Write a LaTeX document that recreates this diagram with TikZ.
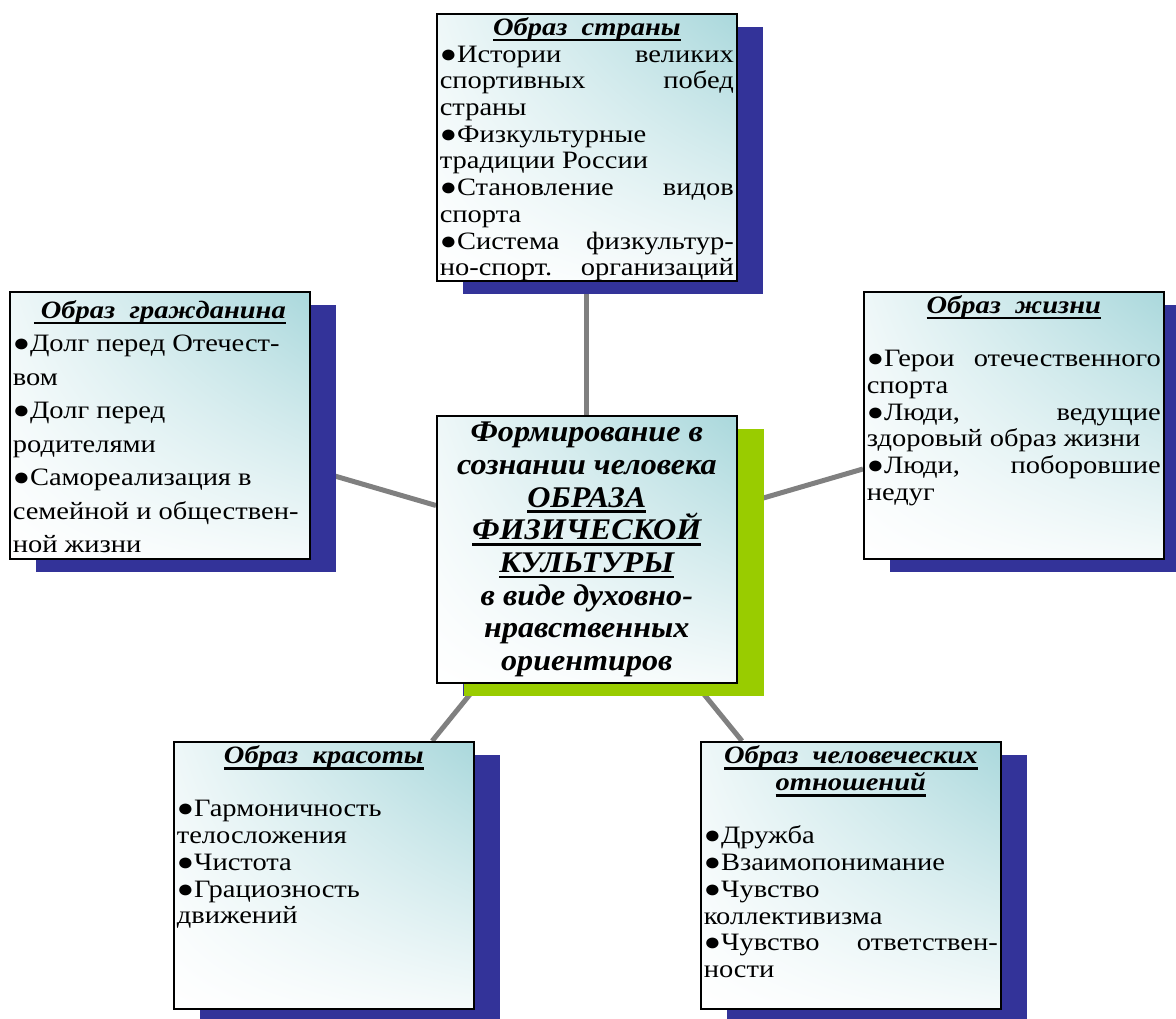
\documentclass[tikz,border=0pt]{standalone}
\usepackage{fontspec}
\setmainfont[FakeStretch=1.14]{Liberation Serif}
\newfontfamily\centrfont[FakeStretch=1.07]{Liberation Serif}
\usepackage{xcolor}
\usepackage{tikz}
\usetikzlibrary{shadows,shadings}
\usetikzlibrary{backgrounds}
\usetikzlibrary{positioning}

\definecolor{sinij}{RGB}{51,51,153}
\definecolor{salat}{RGB}{153,204,0}
\definecolor{seryj}{RGB}{128,128,128}
\definecolor{biruza}{RGB}{170,216,220}

\newcommand{\podch}[1]{\leavevmode\setbox0=\hbox{#1}\rlap{\rule[-6pt]{\wd0}{2.6pt}}\box0}
\newcommand{\vnutri}[1]{\parbox[c][261pt][t]{294pt}{\frenchspacing\hyphenpenalty=10000 #1}}
\newcommand{\zag}[1]{{\centering\bfseries\itshape\strut #1\par}}

\begin{document}
\begin{tikzpicture}[x=1pt,y=-1pt,semithick]
 \tikzstyle{obraz}=[anchor=north west, draw=black, line width=1.6pt, inner sep=3pt,
   upper right=biruza, upper left=biruza!20, lower right=biruza!12, lower left=white,
   drop shadow={shadow xshift=26pt, shadow yshift=-13pt, fill=sinij, opacity=1},
   font=\fontsize{25}{26.7}\selectfont]
 \tikzstyle{centr}=[obraz, drop shadow={shadow xshift=27pt, shadow yshift=-13pt, fill=salat, opacity=1}]
 \tikzstyle{svyaz}=[draw=seryj, line width=5pt]
 \useasboundingbox (0,0) rectangle (1176,1018);

 \node[obraz] (strana) at (436,13) {\vnutri{%
   \zag{\podch{Образ~~страны}}
   ●Истории великих\linebreak спортивных побед\linebreak страны\par
   ●Физкультурные\newline традиции России\par
   ●Становление видов\linebreak спорта\par
   {\parfillskip=0pt ●Система физкультур-\linebreak но-спорт. организаций\par}}};
 \node[obraz, font=\fontsize{25}{33.5}\selectfont] (grazhd) at (9,291) {\vnutri{%
   \zag{\podch{\ Образ~~гражданина}}
   ●Долг перед Отечест-\newline вом\par
   ●Долг перед\newline родителями\par
   ●Самореализация в\newline семейной и обществен-\newline ной жизни\par}};
 \node[obraz] (zhizn) at (863,291) {\vnutri{%
   \zag{\podch{Образ~~жизни}}
   \mbox{}\par
   ●Герои отечественного\linebreak спорта\par
   ●Люди, ведущие\linebreak здоровый образ жизни\par
   ●Люди, поборовшие\linebreak недуг\par}};
 \node[centr] (centr) at (436,415) {\vnutri{%
   {\centering\centrfont\bfseries\itshape\fontsize{30}{32.7}\selectfont
   \strut Формирование в\\ сознании человека\\ \podch{ОБРАЗА}\\ \podch{ФИЗИЧЕСКОЙ}\\
   \podch{КУЛЬТУРЫ}\\ в виде духовно-\\ нравственных\\ ориентиров\par}}};
 \node[obraz] (krasota) at (173,741) {\vnutri{%
   \zag{\podch{Образ~~красоты}}
   \mbox{}\par
   ●Гармоничность\newline телосложения\par
   ●Чистота\par
   ●Грациозность\newline движений\par}};
 \node[obraz] (otnosh) at (700,741) {\vnutri{%
   \zag{\fontsize{25}{24}\selectfont\podch{Образ~~человеческих}\\ \podch{отношений}}
   \mbox{}\par
   ●Дружба\par
   ●Взаимопонимание\par
   ●Чувство\newline коллективизма\par
   ●Чувство ответствен-\linebreak ности\par}};

 \begin{scope}[on background layer]
  \path[svyaz]
   (centr) edge (strana)
   (centr) edge (grazhd)
   (centr) edge (zhizn)
   (centr) edge (krasota)
   (centr) edge (otnosh);
 \end{scope}
\end{tikzpicture}
\end{document}
